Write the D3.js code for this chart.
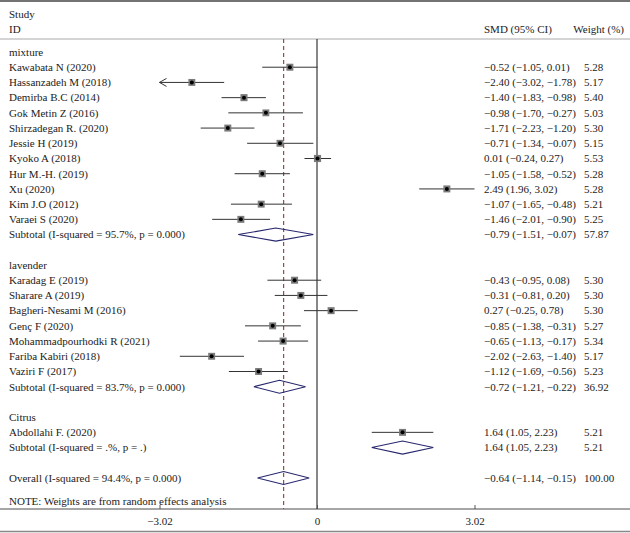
<!DOCTYPE html>
<html><head><meta charset="utf-8">
<script src="https://cdn.jsdelivr.net/npm/d3@7"></script>
<style>body{margin:0;background:#fff}svg{display:block}text{font-family:"Liberation Serif","DejaVu Serif",serif;fill:#222}</style>
</head><body>
<script>
// ---- data ----
const groupNames = ["mixture", "lavender", "Citrus"];
const studyNames = ["Kawabata N (2020)","Hassanzadeh M (2018)","Demirba B.C (2014)","Gok Metin Z (2016)","Shirzadegan R. (2020)","Jessie H (2019)","Kyoko A (2018)","Hur M.-H. (2019)","Xu (2020)","Kim J.O (2012)","Varaei S (2020)",
  "Karadag E (2019)","Sharare A (2019)","Bagheri-Nesami M (2016)","Genç F (2020)","Mohammadpourhodki R (2021)","Fariba Kabiri (2018)","Vaziri F (2017)",
  "Abdollahi F. (2020)"];
const studyGroup = [0,0,0,0,0,0,0,0,0,0,0, 1,1,1,1,1,1,1, 2];
const studySmd  = [-0.52,-2.40,-1.40,-0.98,-1.71,-0.71,0.01,-1.05,2.49,-1.07,-1.46, -0.43,-0.31,0.27,-0.85,-0.65,-2.02,-1.12, 1.64];
const studyLow  = [-1.05,-3.02,-1.83,-1.70,-2.23,-1.34,-0.24,-1.58,1.96,-1.65,-2.01, -0.95,-0.81,-0.25,-1.38,-1.13,-2.63,-1.69, 1.05];
const studyHigh = [0.01,-1.78,-0.98,-0.27,-1.20,-0.07,0.27,-0.52,3.02,-0.48,-0.90, 0.08,0.20,0.78,-0.31,-0.17,-1.40,-0.56, 2.23];
const studyWeight = [5.28,5.17,5.40,5.03,5.30,5.15,5.53,5.28,5.28,5.21,5.25, 5.30,5.30,5.30,5.27,5.34,5.17,5.23, 5.21];
const subtotalLabels = ["Subtotal (I-squared = 95.7%, p = 0.000)","Subtotal (I-squared = 83.7%, p = 0.000)","Subtotal (I-squared = .%, p = .)"];
const subtotalSmd  = [-0.79,-0.72,1.64];
const subtotalLow  = [-1.51,-1.21,1.05];
const subtotalHigh = [-0.07,-0.22,2.23];
const subtotalWeight = ["57.87","36.92","5.21"];
const overallLabel = "Overall (I-squared = 94.4%, p = 0.000)";
const overallSmd = -0.64, overallLow = -1.14, overallHigh = -0.15, overallWeight = "100.00";
const tickValues = [-3.02, 0, 3.02];
const tickLabels = ["\u22123.02", "0", "3.02"];
const noteText = "NOTE: Weights are from random effects analysis";

// ---- layout ----
const W = 630, H = 533;
const svg = d3.select("body").append("svg").attr("width", W).attr("height", H);
const x = d3.scaleLinear().domain([-3.02, 3.02]).range([159.5, 474.5]);
const y = d3.scaleLinear().domain([0, 28]).range([52, 478]);
const size = d3.scaleSqrt().domain([0, 5.3]).range([0, 7]);
const fmt = v => (v < 0 ? "\u2212" : "") + Math.abs(v).toFixed(2);
const ciText = (m, l, h) => `${fmt(m)} (${fmt(l)}, ${fmt(h)})`;

const fs = 11;
const colLabel = 9, colCI = 484, colW = 584;

// build rows
const rows = [];
let r = 0;
groupNames.forEach((g, gi) => {
  rows.push({type: "group", label: g, row: r++});
  studyNames.forEach((s, i) => {
    if (studyGroup[i] === gi) rows.push({type: "study", label: s, m: studySmd[i], l: studyLow[i], h: studyHigh[i], w: studyWeight[i], row: r++});
  });
  rows.push({type: "sub", label: subtotalLabels[gi], m: subtotalSmd[gi], l: subtotalLow[gi], h: subtotalHigh[gi], wt: subtotalWeight[gi], row: r++});
  r++;
});
rows.push({type: "sub", label: overallLabel, m: overallSmd, l: overallLow, h: overallHigh, wt: overallWeight, row: r});

// frame lines
svg.append("line").attr("x1", 0).attr("x2", W).attr("y1", 1).attr("y2", 1).attr("stroke", "#444").attr("stroke-width", 1.5);
svg.append("line").attr("x1", 0).attr("x2", W).attr("y1", 39).attr("y2", 39).attr("stroke", "#aaa").attr("stroke-width", 1.2);
svg.append("line").attr("x1", 0).attr("x2", W).attr("y1", 509).attr("y2", 509).attr("stroke", "#888").attr("stroke-width", 1.5);
svg.append("line").attr("x1", 0).attr("x2", W).attr("y1", 531.5).attr("y2", 531.5).attr("stroke", "#888").attr("stroke-width", 1.5);

// header
svg.append("text").attr("x", colLabel).attr("y", 14).attr("dy", "0.35em").attr("font-size", fs).text("Study");
svg.append("text").attr("x", colLabel).attr("y", 29).attr("dy", "0.35em").attr("font-size", fs).text("ID");
svg.append("text").attr("x", colCI).attr("y", 29).attr("dy", "0.35em").attr("font-size", fs).text("SMD (95% CI)");
svg.append("text").attr("x", 624).attr("y", 29).attr("dy", "0.35em").attr("font-size", fs).attr("text-anchor", "end").text("Weight (%)");

// reference lines
svg.append("line").attr("x1", x(0)).attr("x2", x(0)).attr("y1", 39).attr("y2", 509).attr("stroke", "#111").attr("stroke-width", 1);
svg.append("line").attr("x1", x(overallSmd)).attr("x2", x(overallSmd)).attr("y1", 39).attr("y2", 509)
  .attr("stroke", "#a0464a").attr("stroke-width", 1.2).attr("stroke-dasharray", "4,3");

// axis ticks
const axis = d3.axisBottom(x).tickValues(tickValues).tickFormat((d, i) => tickLabels[i]).tickSize(0).tickPadding(8);
const ag = svg.append("g").attr("transform", "translate(0,509)").call(axis);
ag.select(".domain").remove();
ag.selectAll("text").attr("font-size", fs).attr("font-family", "Liberation Serif, serif").attr("fill", "#222");
ag.selectAll(".tick").append("line").attr("y1", -4).attr("y2", 0).attr("stroke", "#555");

// row labels
svg.selectAll("text.lab").data(rows).join("text").attr("class", "lab")
  .attr("x", colLabel).attr("y", d => y(d.row)).attr("dy", "0.35em").attr("font-size", fs).text(d => d.label);
svg.selectAll("text.ci").data(rows.filter(d => d.type !== "group")).join("text").attr("class", "ci")
  .attr("x", colCI).attr("y", d => y(d.row)).attr("dy", "0.35em").attr("font-size", fs).text(d => ciText(d.m, d.l, d.h));
svg.selectAll("text.wt").data(rows.filter(d => d.type !== "group")).join("text").attr("class", "wt")
  .attr("x", colW).attr("y", d => y(d.row)).attr("dy", "0.35em").attr("font-size", fs).text(d => d.type === "study" ? d.w.toFixed(2) : d.wt);

svg.append("text").attr("x", colLabel).attr("y", 501).attr("dy", "0.35em").attr("font-size", fs).text(noteText);

// study markers
const st = rows.filter(d => d.type === "study");
const [dmin, dmax] = x.domain();
svg.selectAll("line.ci").data(st).join("line").attr("class", "ci")
  .attr("x1", d => x(Math.max(d.l, dmin))).attr("x2", d => x(Math.min(d.h, dmax)))
  .attr("y1", d => y(d.row)).attr("y2", d => y(d.row)).attr("stroke", "#333").attr("stroke-width", 1);
st.filter(d => d.l <= dmin).forEach(d => {
  const x0 = x(dmin), yy = y(d.row);
  svg.append("path").attr("d", `M${x0 + 7},${yy - 4}L${x0},${yy}L${x0 + 7},${yy + 4}`).attr("fill", "none").attr("stroke", "#333").attr("stroke-width", 1);
});
svg.selectAll("rect.box").data(st).join("rect").attr("class", "box")
  .attr("x", d => x(d.m) - size(d.w) / 2).attr("y", d => y(d.row) - size(d.w) / 2)
  .attr("width", d => size(d.w)).attr("height", d => size(d.w)).attr("fill", "#7a7a7a");
svg.selectAll("circle.dot").data(st).join("circle").attr("class", "dot")
  .attr("cx", d => x(d.m)).attr("cy", d => y(d.row)).attr("r", 2).attr("fill", "#000");

// diamonds
const sb = rows.filter(d => d.type === "sub");
svg.selectAll("path.dia").data(sb).join("path").attr("class", "dia")
  .attr("d", d => { const yy = y(d.row); return `M${x(d.l)},${yy}L${x(d.m)},${yy - 6.5}L${x(d.h)},${yy}L${x(d.m)},${yy + 6.5}Z`; })
  .attr("fill", "none").attr("stroke", "#27276e").attr("stroke-width", 1.1);
</script>
</body></html>
